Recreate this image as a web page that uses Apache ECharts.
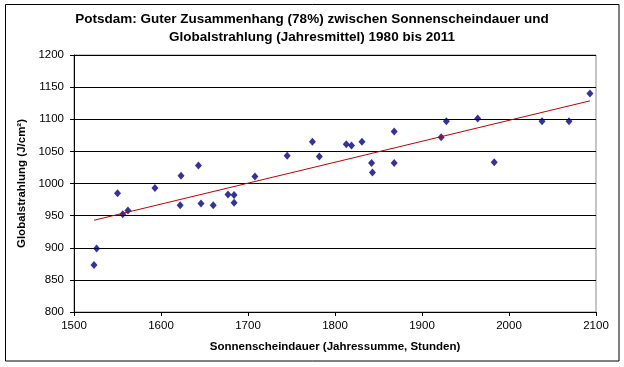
<!DOCTYPE html>
<html>
<head>
<meta charset="utf-8">
<script src="https://cdn.jsdelivr.net/npm/echarts@6/dist/echarts.min.js"></script>
<style>
html,body{margin:0;padding:0;background:#fff;}
#c{width:624px;height:367px;}
</style>
</head>
<body>
<div id="c"></div>
<script>
// Sonnenscheindauer (Jahressumme, Stunden), 1980-2011 (order not identifiable; sorted by x)
var sunshine = [1523,1526,1550,1556,1562,1593,1623,1622,1643,1646,1660,1677,1684,1684,1708,1745,1774,1782,1813,1819,1831,1842,1843,1868,1868,1922,1928,1964,1983,2038,2069,2093];
// Globalstrahlung (J/cm²), Jahresmittel
var radiation = [873,899,985,952,958,993,1012,966,1028,969,966,983,982,970,1011,1043,1065,1042,1061,1059,1065,1032,1017,1081,1032,1072,1097,1101,1033,1097,1097,1140];
var xTicks = {min:1500, max:2100, interval:100};
var yTicks = {min:800, max:1200, interval:50};

var titleText = 'Potsdam: Guter Zusammenhang (78%) zwischen Sonnenscheindauer und\nGlobalstrahlung (Jahresmittel) 1980 bis 2011';
var xName = 'Sonnenscheindauer (Jahressumme, Stunden)';
var yName = 'Globalstrahlung (J/cm²)';

var points = sunshine.map(function(x,i){return [x, radiation[i]];});

// linear regression for trend line
function linreg(xs, ys){
  var n = xs.length, mx = 0, my = 0;
  for (var i=0;i<n;i++){mx+=xs[i];my+=ys[i];}
  mx/=n; my/=n;
  var sxy=0, sxx=0;
  for (var j=0;j<n;j++){sxy+=(xs[j]-mx)*(ys[j]-my); sxx+=(xs[j]-mx)*(xs[j]-mx);}
  var b = sxy/sxx; return {a: my-b*mx, b: b};
}
var reg = linreg(sunshine, radiation);
var xMin = Math.min.apply(null, sunshine), xMax = Math.max.apply(null, sunshine);
var trend = [[xMin, reg.a+reg.b*xMin],[xMax, reg.a+reg.b*xMax]];

var FONT = 'Liberation Sans, Arial, sans-serif';
function plain(v){ return String(v); }
var chart = echarts.init(document.getElementById('c'), null, {renderer:'canvas'});
chart.setOption({
  animation:false,
  backgroundColor:'#fff',
  textStyle:{fontFamily:FONT},
  title:{
    text:titleText, left:'center', top:5,
    textStyle:{fontFamily:FONT, fontSize:13.5, fontWeight:'bold', color:'#000', lineHeight:18}
  },
  graphic:[{
    type:'rect', shape:{x:5.5, y:4.5, width:613.5, height:356.5},
    style:{fill:'none', stroke:'#000', lineWidth:1}, silent:true, z:-1
  }],
  grid:{left:74, right:28, top:55, bottom:55, show:true, borderColor:'#8c8c8c', borderWidth:1, backgroundColor:'transparent'},
  xAxis:{
    type:'value', min:xTicks.min, max:xTicks.max, interval:xTicks.interval,
    name:xName, nameLocation:'middle', nameGap:29,
    nameTextStyle:{fontFamily:FONT, fontSize:11.5, fontWeight:'bold', color:'#000'},
    axisLine:{show:true, onZero:false, lineStyle:{color:'#000', width:1}},
    axisTick:{show:true, inside:false, length:4, lineStyle:{color:'#000'}},
    axisLabel:{color:'#000', fontSize:11.5, fontFamily:FONT, margin:8, formatter:plain},
    splitLine:{show:false}
  },
  yAxis:{
    type:'value', min:yTicks.min, max:yTicks.max, interval:yTicks.interval,
    name:yName, nameLocation:'middle', nameGap:46,
    nameTextStyle:{fontFamily:FONT, fontSize:11.5, fontWeight:'bold', color:'#000'},
    axisLine:{show:true, onZero:false, lineStyle:{color:'#000', width:1}},
    axisTick:{show:true, inside:false, length:4, lineStyle:{color:'#000'}},
    axisLabel:{color:'#000', fontSize:11.5, fontFamily:FONT, margin:10, formatter:plain},
    splitLine:{show:true, lineStyle:{color:'#000', width:1}}
  },
  series:[
    {
      type:'scatter', data:points, symbol:'diamond', symbolSize:[7,8],
      itemStyle:{color:'#000080'}, z:3
    },
    {
      type:'line', data:trend, symbol:'none', silent:true,
      lineStyle:{color:'#c00000', width:1}, z:4
    }
  ]
});
</script>
</body>
</html>
